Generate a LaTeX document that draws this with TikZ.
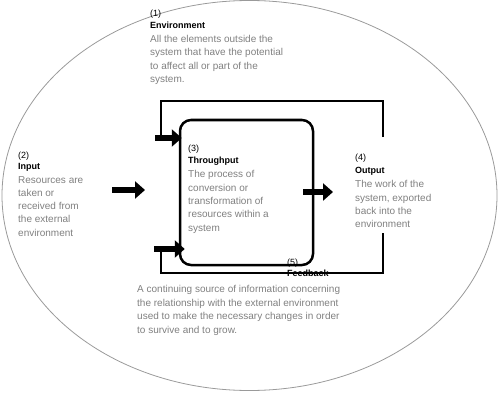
\documentclass[tikz,border=0pt]{standalone}
\usepackage{fontspec}
\setmainfont{Liberation Sans}
\usetikzlibrary{arrows.meta}
\definecolor{txtgray}{HTML}{808080}
\definecolor{envgray}{HTML}{9A9A9A}

\begin{document}
\begin{tikzpicture}[x=1pt, y=-1pt,
		head/.style={anchor=base west, inner sep=0pt, font=\fontsize{9}{11}\selectfont},
		body/.style={anchor=base west, inner sep=0pt, text=txtgray, font=\fontsize{10}{12}\selectfont},
		blockarrow/.style={line width=6pt, -{Triangle[length=10pt, width=17pt]}},
		loopline/.style={line width=2pt}]
	\useasboundingbox (0,0) rectangle (500,393);
	% Umgebung (Ellipse)
	\draw[envgray, line width=0.8pt] (249.5,195.5) ellipse [x radius=247.5pt, y radius=195pt];
	% (1) Environment
	\node[head] (env-num) at (150,16.3) {(1)};
	\node[head] (env-head) at (150,28.3) {\textbf{Environment}};
	\foreach \t [count=\i from 0] in {All the elements outside the, system that have the potential, to affect all or part of the, system.}
		\node[body] (env-\i) at (150,42.6+13.4*\i) {\t};
	% (2) Input
	\node[head] (in-num) at (18,158.3) {(2)};
	\node[head] (in-head) at (18,169.8) {\textbf{Input}};
	\foreach \t [count=\i from 0] in {Resources are, taken or, received from, the external, environment}
		\node[body] (in-\i) at (18,183.6+13.1*\i) {\t};
	% (3) Throughput
	\node[head] (thr-num) at (188,151.3) {(3)};
	\node[head] (thr-head) at (188,163.3) {\textbf{Throughput}};
	\foreach \t [count=\i from 0] in {The process of, conversion or, transformation of, resources within a, system}
		\node[body] (thr-\i) at (188,177.6+13.4*\i) {\t};
	% (4) Output
	\node[head] (out-num) at (355,160.3) {(4)};
	\node[head] (out-head) at (355,173.3) {\textbf{Output}};
	\foreach \t [count=\i from 0] in {The work of the, {system, exported}, back into the, environment}
		\node[body] (out-\i) at (355,187.6+13.4*\i) {\t};
	% (5) Feedback
	\node[head] (fb-num) at (287,265.3) {(5)};
	\node[head] (fb-head) at (287,276.3) {\textbf{Feedback}};
	\foreach \t [count=\i from 0] in {A continuing source of information concerning, the relationship with the external environment, used to make the necessary changes in order, to survive and to grow.}
		\node[body] (fb-\i) at (137,292.6+13.5*\i) {\t};
	% System
	\node[draw, line width=2.5pt, rounded corners=11pt, minimum width=133pt, minimum height=145pt, inner sep=0pt] (sys) at (246.5,192.5) {};
	% Rueckkopplung
	\coordinate (out-top) at (383,137);
	\coordinate (out-bot) at (383,233);
	\coordinate (fb-in1) at (155,138);
	\coordinate (fb-in2) at (154,249);
	\draw[loopline] (out-top) -- ++(0,-36) -| ([xshift=6pt]fb-in1);
	\draw[loopline] (out-bot) -- ++(0,40) -| ([xshift=7pt]fb-in2);
	% Pfeile
	\coordinate (in-s) at (112,190);
	\coordinate (in-e) at (145,190);
	\coordinate (out-e) at (333,192);
	\draw[blockarrow] (in-s) -- (in-e);
	\draw[blockarrow] (fb-in1) -- ([xshift=3pt]sys.west |- fb-in1);
	\draw[blockarrow] (fb-in2) -- ([xshift=6pt]sys.west |- fb-in2);
	\draw[blockarrow] ([xshift=-11pt]sys.east |- out-e) -- (out-e);
\end{tikzpicture}
\end{document}
